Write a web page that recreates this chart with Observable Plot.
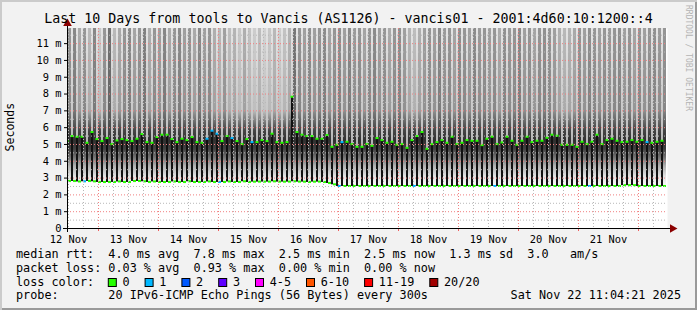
<!DOCTYPE html>
<html><head><meta charset="utf-8">
<script src="https://cdn.jsdelivr.net/npm/d3@7"></script>
<script src="https://cdn.jsdelivr.net/npm/@observablehq/plot@0.6"></script>
<style>
html,body{margin:0;padding:0;background:#f2f2f2;}
#frame{position:relative;width:697px;height:310px;background:#f2f2f2;overflow:hidden;
 box-shadow: inset 2px 2px 0 #cbcbcb, inset -2px -2px 0 #9a9a9a;}
#frame svg{position:absolute;left:0;top:0;}
</style></head>
<body><div id="frame"></div>
<script>
// ---- data ----
const titleText = "Last 10 Days from tools to Vancis (AS1126) - vancis01 - 2001:4d60:10:1200::4";
const xTickLabels = ["12 Nov","13 Nov","14 Nov","15 Nov","16 Nov","17 Nov","18 Nov","19 Nov","20 Nov","21 Nov"];
const yTickValues = [0,1,2,3,4,5,6,7,8,9,10,11];
const yTickLabels = ["0","1 m","2 m","3 m","4 m","5 m","6 m","7 m","8 m","9 m","10 m","11 m"];
// hours since 12 Nov 00:00
const xStartHour = 11.6, xEndHour = 251.6;
const firstColumnHour = 11.2, columnStepHours = 2;
// median rtt (ms): upper value of each 2-hour column
const medianHigh = [5.17,5.47,5.43,5.43,5.07,5.71,5.29,5.17,5.35,4.99,5.21,5.29,5.23,5.17,5.31,5.59,5.11,5.07,5.41,5.55,
 5.55,5.29,5.11,5.31,5.23,5.41,5.11,5.07,5.31,5.79,5.61,5.17,5.47,5.35,5.17,4.99,5.29,5.11,5.11,5.23,
 5.17,5.61,5.11,5.07,5.11,7.81,5.71,5.55,5.47,5.47,5.31,5.31,5.53,4.83,4.95,5.11,5.13,4.99,4.83,4.83,
 4.99,4.89,5.35,5.23,5.07,5.13,4.95,4.99,4.77,5.23,5.47,5.71,4.71,4.99,5.11,5.23,5.07,5.43,4.99,5.07,
 5.23,5.19,5.19,4.93,5.31,5.43,4.99,5.09,5.43,5.19,4.95,5.19,5.43,5.11,5.19,5.19,5.37,5.55,5.49,4.95,
 4.95,4.95,4.83,5.13,4.99,5.13,5.55,4.99,5.23,5.31,5.19,5.11,5.13,5.23,5.13,5.23,5.11,5.07,5.13,5.19];
// median rtt (ms): lower value of each column
const medianLow = [2.80,2.80,2.77,2.78,2.80,2.78,2.74,2.74,2.74,2.74,2.77,2.74,2.74,2.80,2.80,2.78,2.74,2.77,2.74,2.74,
 2.74,2.77,2.74,2.74,2.78,2.74,2.74,2.74,2.77,2.74,2.74,2.74,2.77,2.74,2.74,2.78,2.74,2.76,2.76,2.76,
 2.76,2.78,2.76,2.76,2.76,2.78,2.76,2.76,2.74,2.76,2.76,2.74,2.68,2.60,2.50,2.50,2.50,2.50,2.50,2.50,
 2.50,2.50,2.50,2.50,2.50,2.50,2.50,2.50,2.50,2.50,2.50,2.50,2.50,2.50,2.50,2.50,2.50,2.50,2.50,2.50,
 2.50,2.50,2.50,2.50,2.50,2.50,2.50,2.50,2.50,2.50,2.50,2.50,2.50,2.50,2.50,2.50,2.50,2.50,2.50,2.50,
 2.50,2.50,2.50,2.50,2.50,2.50,2.50,2.50,2.50,2.50,2.50,2.55,2.55,2.55,2.50,2.50,2.50,2.50,2.50,2.50];
// columns whose median marker shows 1 lost ping
const lossOneHigh = [28,29,30,33,37,55,116];
const lossOneLow = [3,30,54,69,85,104];
// grey level of the upper smoke in each column
const smokeGray = [150,136,170,150,185,136,200,150,115,185,170,150,
 140,165,150,130,175,150,160,135,170,150,140,160,
 150,170,140,160,150,175,185,160,190,180,200,175,
 195,205,190,210,200,185,205,195,180,120,150,160,
 145,160,150,140,165,150,145,160,140,155,150,165,
 150,140,160,150,170,150,145,160,180,190,175,160,
 150,160,140,155,150,165,145,150,160,140,155,150,
 160,150,170,145,155,150,140,160,150,165,150,145,
 150,160,175,185,180,170,150,160,145,150,160,150,
 155,150,145,160,150,165,150,160,150,145,155,150];
const lossLabels = ["0","1","2","3","4-5","6-10","11-19","20/20"];
const lossColors = ["#26ff00","#00b8ff","#0059ff","#5e00ff","#ff00ff","#ff5500","#ff0000","#a10000"];
const rttStats = "median rtt:  4.0 ms avg  7.8 ms max  2.5 ms min  2.5 ms now  1.3 ms sd  3.0   am/s";
const lossStats = "packet loss: 0.03 % avg  0.93 % max  0.00 % min  0.00 % now";
const probeText = "probe:       20 IPv6-ICMP Echo Pings (56 Bytes) every 300s";
const dateText = "Sat Nov 22 11:04:21 2025";
const watermark = "RRDTOOL / TOBI OETIKER";
const unitLabel = "Seconds";

// ---- derived tables ----
const yTop = 11.9;
const cols = medianHigh.map((hi, k) => ({
  k, t: firstColumnHour + columnStepHours * k, hi, lo: medianLow[k],
  cHi: lossColors[lossOneHigh.includes(k) ? 1 : 0],
  cLo: lossColors[lossOneLow.includes(k) ? 1 : 0],
  smoke: `url(#smoke${k})`
}));
const dayHours = d3.range(24, 241, 24);
const minorHours = d3.range(12, 250, 6).filter(h => h % 24 !== 0);
const labelHours = xTickLabels.map((_, i) => 12 + 24 * i);
const minorY = d3.range(0.5, 11.9, 1);

const font = "DejaVu Sans Mono";
const plot = Plot.plot({
  width: 697, height: 310,
  marginLeft: 67, marginRight: 30, marginTop: 28, marginBottom: 82,
  x: {type: "linear", domain: [xStartHour, xEndHour]},
  y: {type: "linear", domain: [0, yTop]},
  color: {type: "identity"},
  style: {background: "transparent", fontFamily: font, fontSize: "10.4px", color: "#000", overflow: "visible"},
  marks: [
    Plot.frame({fill: "#ffffff", stroke: "none"}),
    // smoke between spikes
    Plot.rect(cols, {x1: d => d.t + 0.8, x2: d => d.t + 2.0, y1: d => d.lo - 0.1, y2: yTop, fill: "smoke", clip: true}),
    // light smoke above spikes
    Plot.rect(cols, {x1: d => d.t, x2: d => d.t + 0.8, y1: "hi", y2: yTop, fill: "url(#spikeSmoke)", clip: true}),
    // median spikes
    Plot.rect(cols, {x1: d => d.t, x2: d => d.t + 0.8, y1: "lo", y2: "hi", fill: "#111", clip: true}),
    // loss colour markers
    Plot.rect(cols, {x1: d => d.t - 0.2, x2: d => d.t + 1.0, y1: d => d.hi - 0.06, y2: d => d.hi + 0.06, fill: "cHi", clip: true}),
    Plot.rect(cols, {x1: d => d.t + 0.8, x2: d => d.t + 2.0, y1: d => d.lo - 0.06, y2: d => d.lo + 0.06, fill: "cLo", clip: true}),
    // grid (drawn over the graph like rrdtool)
    Plot.ruleX(minorHours, {stroke: "#b8b8b8", strokeDasharray: "1,2"}),
    Plot.ruleY(minorY, {stroke: "#b8b8b8", strokeDasharray: "1,2"}),
    Plot.ruleX(dayHours, {stroke: "#f08080", strokeDasharray: "1,2"}),
    Plot.ruleY(yTickValues.slice(1), {stroke: "#f08080", strokeDasharray: "1,2"}),
    // axes
    Plot.axisY({ticks: yTickValues, tickFormat: (d, i) => yTickLabels[i], tickSize: 3, tickPadding: 3, label: null, fontSize: 10.4}),
    Plot.axisX({ticks: labelHours, tickFormat: (d, i) => xTickLabels[i], tickSize: 0, tickPadding: 7, label: null, fontSize: 10.4}),
    Plot.ruleX(dayHours, {y1: 0, y2: -0.18, stroke: "#f06060"}),
    Plot.ruleY([0], {stroke: "#000", insetLeft: -4, insetRight: -4}),
    Plot.ruleX([xStartHour], {stroke: "#000", insetTop: -4, insetBottom: -4}),
    Plot.dot([0], {x: () => xEndHour, y: () => 0, symbol: "triangle", r: 3.2, fill: "#8b0000", stroke: "none", rotate: 90, dx: 5}),
    Plot.dot([0], {x: () => xStartHour, y: () => yTop, symbol: "triangle", r: 3.2, fill: "#8b0000", stroke: "none", dy: -5})
  ]
});

// gradients for the smoke (user space so all columns share the same vertical layout)
const ns = "http://www.w3.org/2000/svg";
const yS = plot.scale("y");
const defs = document.createElementNS(ns, "defs");
plot.insertBefore(defs, plot.firstChild);
const gBase = 2.5;
function addGradient(id, stops) {
  const g = document.createElementNS(ns, "linearGradient");
  g.setAttribute("id", id);
  g.setAttribute("gradientUnits", "userSpaceOnUse");
  g.setAttribute("x1", 0); g.setAttribute("x2", 0);
  g.setAttribute("y1", yS.apply(gBase)); g.setAttribute("y2", yS.apply(yTop));
  for (const [v, grey] of stops) {
    const s = document.createElementNS(ns, "stop");
    s.setAttribute("offset", ((v - gBase) / (yTop - gBase)).toFixed(4));
    const c = Math.round(grey);
    s.setAttribute("stop-color", `rgb(${c},${c},${c})`);
    g.appendChild(s);
  }
  defs.appendChild(g);
}
cols.forEach(c => {
  const g = smokeGray[c.k];
  addGradient("smoke" + c.k, [[2.5, 250], [3.1, 225], [3.7, 175], [4.2, 115], [4.7, 65], [5.2, 48], [5.8, 70], [7.0, g - 15], [11.9, g]]);
});
addGradient("spikeSmoke", [[4.5, 170], [6.0, 195], [11.9, 228]]);

// texts and legend
function txt(x, y, s, opts = {}) {
  const t = document.createElementNS(ns, "text");
  t.setAttribute("x", x); t.setAttribute("y", y);
  t.setAttribute("font-family", font);
  t.setAttribute("font-size", opts.size || 11.8);
  t.setAttribute("fill", opts.fill || "#000");
  t.setAttribute("text-anchor", opts.anchor || "start");
  t.setAttribute("style", "white-space:pre");
  if (opts.transform) t.setAttribute("transform", opts.transform);
  t.textContent = s;
  plot.appendChild(t);
  return t;
}
txt(348.5, 23, titleText, {size: 13.3, anchor: "middle"});
txt(14, yS.apply(yTop / 2 + 0.05), unitLabel, {size: 11.5, anchor: "middle", transform: `rotate(-90 14 ${yS.apply(yTop / 2 + 0.05)})`});
txt(686, 5, watermark, {size: 8, fill: "#b4b4b4", transform: "rotate(90 686 5)"});
const lx = 16, cw = 7.1;
txt(lx, 258, rttStats);
txt(lx, 271.5, lossStats);
txt(lx, 285.5, "loss color:");
let bx = lx + 13 * cw - 0.5;
lossLabels.forEach((lab, i) => {
  const r = document.createElementNS(ns, "rect");
  r.setAttribute("x", bx + 0.5); r.setAttribute("y", 278.5);
  r.setAttribute("width", 8); r.setAttribute("height", 8);
  r.setAttribute("fill", lossColors[i]); r.setAttribute("stroke", "#000");
  plot.appendChild(r);
  txt(bx + 14.7, 285.5, lab);
  bx = bx + 14.7 + lab.length * cw + 15;
});
txt(lx, 299, probeText);
txt(681, 299, dateText, {anchor: "end"});
document.getElementById("frame").appendChild(plot);
</script>
</body></html>
